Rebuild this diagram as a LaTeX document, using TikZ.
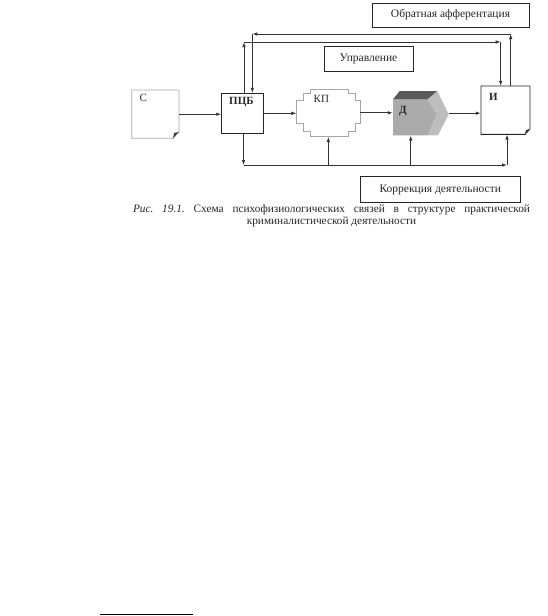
\documentclass[tikz,border=0pt]{standalone}
\usepackage{fontspec}
\setmainfont{Liberation Serif}
\usetikzlibrary{arrows.meta,positioning,calc}

\begin{document}
\begin{tikzpicture}[
  x=1pt, y=-1pt,
  >={Latex[length=5pt,width=3.5pt]},
  every node/.style={font=\fontsize{11}{13}\selectfont, text=black!85},
  link/.style={->, line width=0.8pt, draw=black!80},
  block/.style={draw=black!85, line width=0.9pt, inner sep=0pt},
  ghost/.style={inner sep=0pt},
  note/.style={draw=black!85, line width=0.9pt, inner sep=2pt,
               font=\fontsize{11.5}{13}\selectfont},
  tag/.style={anchor=north west, inner sep=0pt},
  boldtag/.style={tag, font=\fontsize{11}{13}\selectfont\bfseries},
  faint/.style={draw=black!35, line width=0.8pt},
]
  \useasboundingbox (0,0) rectangle (547,616);

  % Main chain
  \node[ghost, minimum width=47.3pt, minimum height=48.3pt] (s) at (155.3,114.2) {};
  \node[block, minimum width=41.6pt, minimum height=40pt] (pcb) at (242.5,113.3) {};
  \node[ghost, minimum width=63.3pt, minimum height=47.7pt] (kp) at (328.3,112.8) {};
  \node[ghost, minimum width=55.7pt, minimum height=44.3pt] (d) at (420.8,113.2) {};
  \node[ghost, minimum width=49pt, minimum height=48.3pt] (i) at (505.5,110.2) {};

  % C: document with folded corner
  \draw[faint] (131.7,90) -- (179,90) -- (179,132) -- (173,138.3) -- (131.7,138.3) -- cycle;
  \fill[black!80] (173,138.3) -- (174.2,133) -- (179,132) -- (177,133.6) -- cycle;
  \node[tag] (st) at (139.5,94.5) {С};

  \node[boldtag] (pcbt) at (229,97) {ПЦБ};

  % KP: stepped cross
  \draw[faint] (310,89) -- (348.3,89) -- (348.3,93.3) -- (355,93.3) -- (355,100)
    -- (360,100) -- (360,123.3) -- (355,123.3) -- (355,131.7) -- (348.3,131.7)
    -- (348.3,136.7) -- (310,136.7) -- (310,131.7) -- (303.3,131.7) -- (303.3,123.3)
    -- (296.7,123.3) -- (296.7,100) -- (303.3,100) -- (303.3,93.3) -- (310,93.3) -- cycle;
  \node[tag] (kpt) at (313.5,95) {КП};

  % D: shaded block
  \fill[black!33] (393,99.3) -- (427.3,99.3) -- (437,114) -- (428,135.3) -- (393,135.3) -- cycle;
  \fill[black!26] (427.3,99.3) -- (437.3,91) -- (448.7,114.3) -- (438,135.3) -- (428,135.3) -- (437,114) -- cycle;
  \fill[black!65] (393,99.3) -- (399.7,91) -- (437.3,91) -- (427.3,99.3) -- cycle;
  \node[boldtag] (dt) at (399,106.5) {Д};

  % I: document with folded corner
  \draw[block] (481,86) -- (530,86) -- (530,129) -- (525,134.3) -- (481,134.3) -- cycle;
  \fill[black!80] (525,134.3) -- (526,130) -- (530,129) -- cycle;
  \node[boldtag] (it) at (489,93) {И};

  \draw[link] (s.east) -- (s.east -| pcb.west);
  \draw[link] (pcb.east) -- (pcb.east -| kp.west);
  \draw[link] (kp.east) -- (kp.east -| d.west);
  \draw[link] (d.east) -- (d.east -| i.west);

  % Labels
  \node[note, minimum width=157pt, minimum height=24pt] (aff) at (450.5,15) {Обратная афферентация};
  \node[note, minimum width=89pt, minimum height=24.3pt] (ctl) at (368.5,58.8) {Управление};
  \node[note, minimum width=159.3pt, minimum height=26pt] (cor) at (440.3,189.7) {Коррекция деятельности};

  % Control and afferent loops
  \coordinate (ctlL) at (244,42);
  \coordinate (ctlR) at (500.7,42);
  \coordinate (affR) at (510.7,34);
  \coordinate (affL) at (252.3,34);
  \draw[link] (pcb.north -| ctlL) -- (ctlL);
  \draw[link] (ctlL) -- (ctlR);
  \draw[link] (ctlR) -- (ctlR |- i.north);
  \draw[link] (i.north -| affR) -- (affR);
  \draw[link] (affR) -- (affL);
  \draw[link] (affL) -- (affL |- pcb.north);

  % Correction bus
  \coordinate (corL) at (243.5,165);
  \coordinate (corR) at (507,165);
  \draw[link] (pcb.south -| corL) -- (corL);
  \draw[link] (corL) -- (corR);
  \draw[link] (corR) -- (corR |- i.south);
  \draw[link] (kp.south |- corL) -- (kp.south);
  \draw[link] ([xshift=-10pt]d.south |- corL) -- ([xshift=-10pt]d.south);

  % Caption
  \node[align=center, font=\fontsize{11.3}{12.5}\selectfont\frenchspacing] (cap) at (331.5,216)
    {\makebox[397pt][s]{\textit{Рис. 19.1.} Схема психофизиологических связей в структуре практической}\\
     криминалистической деятельности};

  \draw[line width=1pt] (100,614) -- (193,614);
\end{tikzpicture}
\end{document}
